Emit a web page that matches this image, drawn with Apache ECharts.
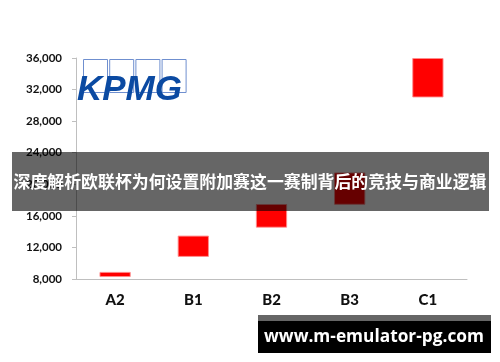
<!DOCTYPE html>
<html><head><meta charset="utf-8">
<script src="https://cdn.jsdelivr.net/npm/echarts@6/dist/echarts.min.js"></script>
<style>html,body{margin:0;padding:0;background:#fff}#c{width:500px;height:362px}</style>
</head><body><div id="c"></div>
<script>
var categories = ['A2', 'B1', 'B2', 'B3', 'C1'];
var lowValues = [8250, 10800, 14500, 17400, 31000];
var highValues = [8900, 13500, 17500, 21500, 36000];
var yMin = 8000, yMax = 36000, yStep = 4000;
var bannerTitle = '深度解析欧联杯为何设置附加赛这一赛制背后的竞技与商业逻辑';
var siteText = 'www.m-emulator-pg.com';
var logoText = 'KPMG';

var spans = highValues.map(function (h, i) { return h - lowValues[i]; });

var chart = echarts.init(document.getElementById('c'), null, {renderer: 'canvas'});
var logoBoxes = [];
for (var i = 0; i < 4; i++) {
  logoBoxes.push({type: 'rect', z: 50, shape: {x: 83.5 + i * 26.2, y: 59.5, width: 24, height: 33},
    style: {fill: 'rgba(255,255,255,0)', stroke: '#6f8fcf', lineWidth: 1}});
}
chart.setOption({
  animation: false,
  grid: {left: 76, right: 33, top: 58, bottom: 83},
  xAxis: {
    type: 'category', data: categories,
    axisLine: {lineStyle: {color: '#bfbfbf'}},
    axisTick: {lineStyle: {color: '#bfbfbf'}, length: 5},
    axisLabel: {color: '#111', fontWeight: 900, fontSize: 15, fontFamily: 'Lato', margin: 14}
  },
  yAxis: {
    type: 'value', min: yMin, max: yMax, interval: yStep,
    axisLine: {show: true, lineStyle: {color: '#bfbfbf'}},
    axisTick: {show: true, lineStyle: {color: '#bfbfbf'}, length: 4},
    splitLine: {show: false},
    axisLabel: {color: '#111', fontWeight: 'bold', fontSize: 11.5, fontFamily: 'Lato', margin: 14,
      formatter: function (v) { return v.toLocaleString('en-US'); }}
  },
  series: [
    {type: 'bar', stack: 's', data: lowValues, barWidth: '40%', itemStyle: {color: 'rgba(0,0,0,0)'}, silent: true},
    {type: 'bar', stack: 's', data: spans, barWidth: '40%',
      itemStyle: {color: '#ff0000', borderColor: 'rgba(255,140,140,0.9)', borderWidth: 1}}
  ],
  graphic: logoBoxes.concat([
    {type: 'text', z: 51, left: 77, top: 73,
      style: {text: logoText, fill: '#0b4aa2', font: 'italic bold 35px "Liberation Sans", Arial, sans-serif'}},
    {type: 'rect', z: 100, shape: {x: 12, y: 152, width: 477, height: 59}, style: {fill: 'rgba(0,0,0,0.6)'}},
    {type: 'text', z: 101, x: 250, y: 182,
      style: {text: bannerTitle, fill: '#ffffff', font: 'bold 16.9px "Noto Sans CJK SC", sans-serif',
        textAlign: 'center', textVerticalAlign: 'middle'}},
    {type: 'rect', z: 100, shape: {x: 258, y: 315, width: 233, height: 6}, style: {fill: '#666666'}},
    {type: 'rect', z: 100, shape: {x: 258, y: 321, width: 233, height: 32}, style: {fill: '#000000'}},
    {type: 'text', z: 101, x: 374, y: 337,
      style: {text: siteText, fill: '#ffffff', font: 'bold 17.3px "Open Sans", sans-serif',
        textAlign: 'center', textVerticalAlign: 'middle'}}
  ])
});
</script></body></html>
